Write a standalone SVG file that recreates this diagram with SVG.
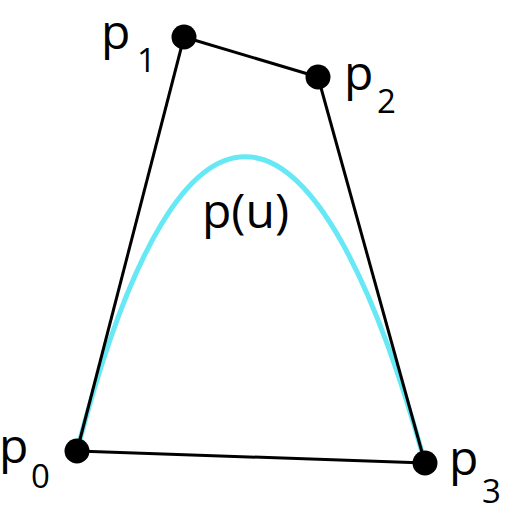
<svg xmlns="http://www.w3.org/2000/svg" width="512" height="512" viewBox="0 0 512 512">
<style>
.lbl{font-family:"Open Sans","Liberation Sans",sans-serif;font-size:48px;fill:#000}
.sub{font-family:"Open Sans","Liberation Sans",sans-serif;font-size:33px;fill:#000}
.pt{fill:#000}
.edge{stroke:#000;stroke-width:3;fill:none}
.curve{stroke:#66e8f5;stroke-width:5;fill:none}
</style>
<rect width="512" height="512" fill="#fff"/>
<g id="curve">
<path class="curve" d="M77,451 C184,37 318,77 425,463"/>
<text class="lbl" x="202" y="228">p(u)</text>
</g>
<g id="connectors">
<line class="edge" x1="77" y1="451" x2="184" y2="37"/>
<line class="edge" x1="184" y1="37" x2="318" y2="77"/>
<line class="edge" x1="318" y1="77" x2="425" y2="463"/>
<line class="edge" x1="77" y1="451" x2="425" y2="463"/>
</g>
<g id="p0">
<circle class="pt" cx="77" cy="451" r="12.5"/>
<text class="lbl" x="-1" y="463">p</text>
<text class="sub" x="31" y="488">0</text>
</g>
<g id="p1">
<circle class="pt" cx="184" cy="37" r="12.5"/>
<text class="lbl" x="101" y="49">p</text>
<text class="sub" x="137" y="72">1</text>
</g>
<g id="p2">
<circle class="pt" cx="318" cy="77" r="12.5"/>
<text class="lbl" x="344" y="90">p</text>
<text class="sub" x="377" y="113">2</text>
</g>
<g id="p3">
<circle class="pt" cx="425" cy="463" r="12.5"/>
<text class="lbl" x="449" y="475">p</text>
<text class="sub" x="482" y="503">3</text>
</g>
</svg>
